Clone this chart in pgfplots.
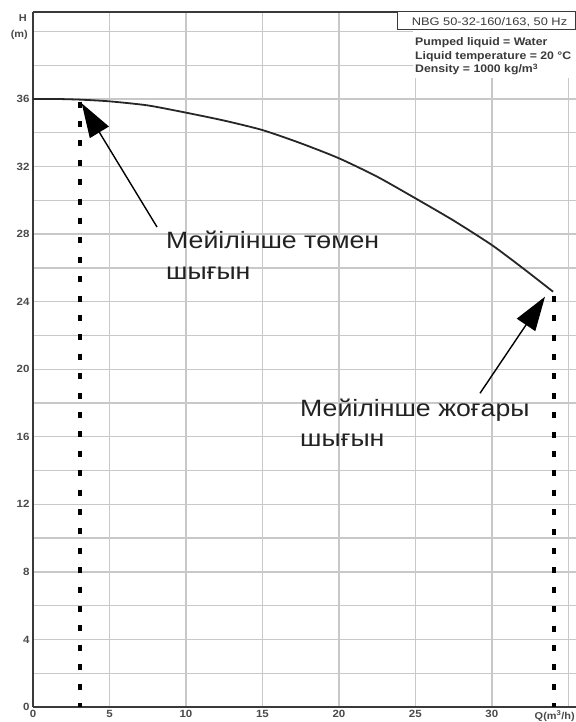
\documentclass[border=0pt]{standalone}
\usepackage{pgfplots}
\pgfplotsset{compat=1.18}
\usepackage{fontspec}
\setmainfont{Liberation Sans}
\newfontfamily\annfont[FakeStretch=1.13]{Liberation Sans}
\newfontfamily\infofont[FakeStretch=1.12]{Liberation Sans}
\newfontfamily\nbgfont[FakeStretch=1.17]{Liberation Sans}
\newfontfamily\ticfont[FakeStretch=1.1]{Liberation Sans}
\usetikzlibrary{arrows.meta}
\definecolor{gridc}{HTML}{C8C8C8}
\definecolor{axc}{HTML}{3A3A3A}
\definecolor{tickc}{HTML}{4A4A4A}
\definecolor{txtc}{HTML}{222222}
\begin{document}
\begin{tikzpicture}
\begin{axis}[
  at={(0,0)}, anchor=south west,
  scale only axis, width=543bp, height=695bp,
  xmin=0, xmax=35.5, ymin=0, ymax=41.15,
  axis x line*=bottom, axis y line*=left,
  axis line style={axc, line width=1.6bp, -},
  every outer x axis line/.append style={-},
  every outer y axis line/.append style={-},
  xtick={0,5,...,35}, xticklabels={0,5,10,15,20,25,30,},
  ytick={0,2,...,40}, yticklabels={0,,4,,8,,12,,16,,20,,24,,28,,32,,36,,},
  major tick length=0pt,
  grid=major, grid style={gridc, line width=1.3bp},
  tick label style={font=\ticfont\fontsize{10.5}{11}\selectfont\bfseries, text=tickc},
  /pgf/number format/assume math mode=true,
  clip=false,
]
\addplot[color=black!85, line width=1.8bp, smooth, tension=0.4] coordinates {
(0,36) (1.5,36) (3.1,35.96) (5,35.86) (7.5,35.62) (10,35.19) (12.5,34.72)
(15,34.16) (17.5,33.38) (20,32.49) (22.5,31.4) (25,30.12) (27.5,28.8)
(30,27.35) (32,26.0) (34,24.59)
};
\addplot[black, line width=4bp, dash pattern=on 6bp off 13.4bp] coordinates {(3.07,35.85) (3.07,0)};
\addplot[black, line width=4bp, dash pattern=on 6bp off 13.4bp] coordinates {(34.05,24.35) (34.05,0)};
\end{axis}
% top frame line
\draw[axc, line width=1.6bp] (0bp,695bp) -- (543bp,695bp);
% axis titles
\node[anchor=base east, inner sep=0pt, text=tickc, font=\ticfont\fontsize{10}{11}\selectfont\bfseries] at (-6bp,685bp) {H};
\node[anchor=base east, inner sep=0pt, text=tickc, font=\ticfont\fontsize{10}{11}\selectfont\bfseries] at (-5bp,669bp) {(m)};
\node[anchor=base east, inner sep=0pt, text=tickc, font=\ticfont\fontsize{10}{11}\selectfont\bfseries] at (542bp,-12.5bp) {Q(m\textsuperscript{3}/h)};
% info box
\fill[white] (380bp,629bp) rectangle (543bp,677bp);
\draw[axc, line width=1bp, fill=white] (364bp,677bp) rectangle (542.5bp,695bp);
\node[anchor=base, inner sep=0pt, text=axc, font=\nbgfont\fontsize{11}{12}\selectfont] at (456.5bp,681bp) {NBG 50-32-160/163, 50 Hz};
\node[anchor=base west, inner sep=0pt, text=axc, font=\infofont\fontsize{11}{12}\selectfont\bfseries] at (382bp,661bp) {Pumped liquid = Water};
\node[anchor=base west, inner sep=0pt, text=axc, font=\infofont\fontsize{11}{12}\selectfont\bfseries] at (382bp,647.5bp) {Liquid temperature = 20 °C};
\node[anchor=base west, inner sep=0pt, text=axc, font=\infofont\fontsize{11}{12}\selectfont\bfseries] at (382bp,634bp) {Density = 1000 kg/m\textsuperscript{3}};
% annotations
\draw[black, line width=1.4bp, -{Triangle[length=34bp,width=22bp]}] (124bp,480bp) -- (48.7bp,603.7bp);
\draw[black, line width=1.4bp, -{Triangle[length=34bp,width=22bp]}] (447bp,313.7bp) -- (512bp,410.3bp);
\node[anchor=base west, inner sep=0pt, text=txtc, font=\annfont\fontsize{23.7}{26}\selectfont] at (133bp,458bp) {Мейілінше төмен};
\node[anchor=base west, inner sep=0pt, text=txtc, font=\annfont\fontsize{23.7}{26}\selectfont] at (133bp,427bp) {шығын};
\node[anchor=base west, inner sep=0pt, text=txtc, font=\annfont\fontsize{23.7}{26}\selectfont] at (267bp,290bp) {Мейілінше жоғары};
\node[anchor=base west, inner sep=0pt, text=txtc, font=\annfont\fontsize{23.7}{26}\selectfont] at (267bp,260bp) {шығын};
\pgfresetboundingbox
\useasboundingbox (-33bp,-15bp) rectangle (543bp,707bp);
\end{tikzpicture}
\end{document}
